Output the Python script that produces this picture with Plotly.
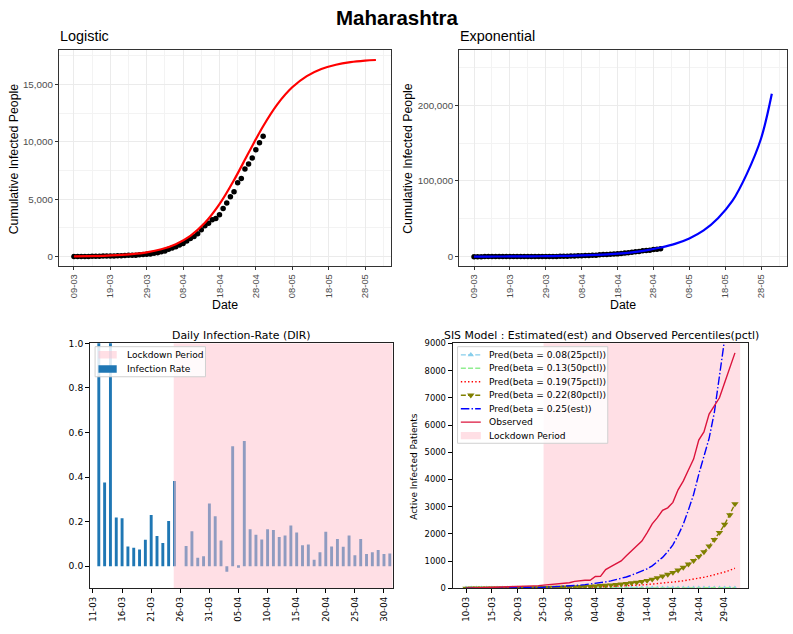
import pandas as pd
import plotly.graph_objects as go

# ---------------- data ----------------
obs_dates = pd.date_range("2020-03-09", "2020-04-30", freq="D")
obs_cum = [2, 5, 11, 14, 17, 26, 32, 38, 41, 45, 48, 52, 64, 74, 97, 107, 122, 125, 153, 186, 203, 220, 302,
           335, 423, 490, 635, 748, 868, 1018, 1135, 1364, 1574, 1761, 1982, 2334, 2684, 2916, 3202, 3323,
           3648, 4200, 4666, 5218, 5652, 6430, 6817, 7628, 8068, 8590, 9318, 9915, 10498]

fit_dates = ["2020-03-09", "2020-03-13", "2020-03-17", "2020-03-21", "2020-03-25", "2020-03-29",
             "2020-04-02", "2020-04-06", "2020-04-10", "2020-04-14", "2020-04-18", "2020-04-22",
             "2020-04-26", "2020-04-30", "2020-05-04", "2020-05-08", "2020-05-12", "2020-05-16",
             "2020-05-20", "2020-05-24", "2020-05-28", "2020-05-31"]
logistic_fit = [23, 40, 70, 123, 213, 369, 637, 1085, 1812, 2941, 4565, 6669, 9049, 11366, 13314,
                14758, 15733, 16351, 16726, 16948, 17078, 17136]
exp_fit = [95, 138, 201, 292, 423, 613, 890, 1291, 1873, 2717, 3940, 5720, 8295, 12030, 16800,
           24000, 34600, 50800, 73500, 109000, 156000, 215000]

dir_dates = pd.date_range("2020-03-12", "2020-05-01", freq="D")
dir_rate = [1.2, 0.375, 1.1, 0.218, 0.215, 0.088, 0.082, 0.075, 0.118, 0.229,
            0.135, 0.104, 0.203, 0.382, 0.0, 0.09, 0.157, 0.038, 0.044, 0.281,
            0.224, 0.115, -0.025, 0.538, -0.007, 0.562, 0.165, 0.141, 0.12, 0.165,
            0.162, 0.131, 0.137, 0.182, 0.151, 0.094, 0.097, 0.029, 0.062, 0.154,
            0.088, 0.122, 0.087, 0.137, 0.049, 0.122, 0.054, 0.062, 0.072, 0.054, 0.057]
dir_lockdown_start = "2020-03-24 21:00"

sis_dates = pd.date_range("2020-03-10", "2020-05-01", freq="D")
sis_observed = [5, 10, 12, 15, 24, 30, 36, 39, 43, 46, 50, 61, 71, 93, 102, 117, 122, 147, 178, 193,
                208, 260, 290, 300, 300, 440, 445, 690, 800, 900, 1010, 1200, 1380, 1550, 1740, 2040,
                2370, 2600, 2870, 2960, 3160, 3620, 3940, 4350, 4750, 5450, 5750, 6400, 6700, 7000,
                7550, 8100, 8650]
pred_025 = [5, 6, 7, 8, 9, 10, 12, 14, 16, 18, 21, 24, 28, 32, 37, 43, 50, 58, 67, 78,
            90, 104, 120, 139, 160, 185, 210, 240, 275, 314, 360, 420, 485, 555, 630, 720, 830, 970,
            1140, 1350, 1600, 1950, 2350, 2880, 3450, 4190, 4850, 5510, 6450, 7650, 8900, 10500, 12300]
pred_022 = [5, 6, 6, 7, 8, 9, 10, 11, 12, 14, 15, 17, 19, 22, 24, 27, 31, 35, 39, 44,
            49, 55, 62, 70, 78, 88, 99, 111, 125, 140, 157, 177, 199, 224, 252, 290, 335, 390,
            450, 515, 580, 670, 770, 890, 1020, 1170, 1340, 1550, 1790, 2050, 2350, 2700, 3100]
pred_019 = [5, 6, 6, 7, 7, 8, 9, 10, 11, 12, 13, 14, 16, 17, 19, 21, 23, 25, 28, 31,
            34, 37, 41, 45, 49, 54, 60, 66, 72, 79, 87, 96, 106, 117, 129, 142, 156, 172,
            190, 209, 230, 253, 279, 307, 338, 372, 410, 451, 497, 547, 602, 663, 740]
pred_013 = [5, 5, 5, 5, 6, 6, 6, 6, 6, 7, 7, 7, 7, 7, 8, 8, 8, 8, 9, 9,
            9, 9, 10, 10, 10, 11, 11, 11, 12, 12, 12, 13, 13, 14, 14, 14, 15, 15, 16, 16,
            17, 17, 18, 18, 19, 19, 20, 20, 21, 22, 22, 23, 24]
pred_008 = [5.0, 4.9, 4.8, 4.7, 4.6, 4.5, 4.4, 4.3, 4.3, 4.2, 4.1, 4.0, 3.9, 3.9, 3.8, 3.7, 3.6, 3.6,
            3.5, 3.4, 3.4, 3.3, 3.2, 3.2, 3.1, 3.0, 3.0, 2.9, 2.9, 2.8, 2.7, 2.7, 2.6, 2.6, 2.5, 2.5,
            2.4, 2.4, 2.3, 2.3, 2.2, 2.2, 2.2, 2.1, 2.1, 2.0, 2.0, 2.0, 1.9, 1.9, 1.8, 1.8, 1.8]
sis_lockdown = ("2020-03-25", "2020-05-02")

sis_labels = ["Pred(beta = 0.08(25pctl))", "Pred(beta = 0.13(50pctl))", "Pred(beta = 0.19(75pctl))",
              "Pred(beta = 0.22(80pctl))", "Pred(beta = 0.25(est))", "Observed", "Lockdown Period"]
dir_labels = ["Lockdown Period", "Infection Rate"]

# ---------------- layout helpers ----------------
W, H = 793, 634
def fx(p):
    return p / W
def fy(p):
    return 1 - p / H

GG = "Liberation Sans"
MPL = "DejaVu Sans"
PINK = "rgba(255,192,203,0.5)"
DAY = 86400000

fig = go.Figure()

# top-left: logistic
fig.add_trace(go.Scatter(x=obs_dates, y=obs_cum, mode="markers", xaxis="x", yaxis="y",
                         marker=dict(color="black", size=5.5)))
fig.add_trace(go.Scatter(x=fit_dates, y=logistic_fit, mode="lines", xaxis="x", yaxis="y",
                         line=dict(color="#FF0000", width=2.2, shape="spline")))
# top-right: exponential
fig.add_trace(go.Scatter(x=obs_dates, y=obs_cum, mode="markers", xaxis="x2", yaxis="y2",
                         marker=dict(color="black", size=5.5)))
fig.add_trace(go.Scatter(x=fit_dates, y=exp_fit, mode="lines", xaxis="x2", yaxis="y2",
                         line=dict(color="#0000FF", width=2.2, shape="spline")))

# bottom-left: DIR bars + lockdown overlay
dir_x0 = pd.Timestamp("2020-03-11") - pd.Timedelta(hours=12)
dir_x1 = dir_dates[-1] + pd.Timedelta(hours=12)
fig.add_trace(go.Bar(x=dir_dates, y=dir_rate, width=DAY * 0.5, xaxis="x3", yaxis="y3",
                     marker=dict(color="#1f77b4", line=dict(width=0))))
fig.add_trace(go.Scatter(x=[dir_lockdown_start, dir_x1, dir_x1, dir_lockdown_start, dir_lockdown_start],
                         y=[-0.1, -0.1, 1.0, 1.0, -0.1], mode="lines", fill="toself",
                         fillcolor=PINK, line=dict(width=0), xaxis="x3", yaxis="y3", hoverinfo="skip"))

# bottom-right: SIS
lw = 1.4
sis_styles = [
    (pred_008, dict(color="#87CEEB", width=lw, dash="5px,2.2px"), dict(symbol="triangle-up", size=5.5, color="#87CEEB")),
    (pred_013, dict(color="#90EE90", width=lw, dash="5px,2.2px"), None),
    (pred_019, dict(color="#FF0000", width=lw, dash="1.4px,2.2px"), None),
    (pred_022, dict(color="#808000", width=lw, dash="5px,2.2px"), dict(symbol="triangle-down", size=6.5, color="#808000")),
    (pred_025, dict(color="#0000FF", width=lw, dash="8.5px,2.2px,1.4px,2.2px"), None),
    (sis_observed, dict(color="#DC143C", width=lw), None),
]
for vals, line, marker in sis_styles:
    fig.add_trace(go.Scatter(x=sis_dates, y=vals, mode="lines+markers" if marker else "lines",
                             line=line, marker=marker, xaxis="x4", yaxis="y4"))

# SIS legend (aux axes in pixel units)
LX0, LX1, LY0, LY1 = 452, 612, 342, 449
fig.add_trace(go.Scatter(x=[456.7, 607.3, 607.3, 456.7, 456.7], y=[346.7, 346.7, 445, 445, 346.7],
                         mode="lines", fill="toself", fillcolor="rgba(255,255,255,0.85)",
                         line=dict(color="#d0d0d0", width=1), xaxis="x5", yaxis="y5", hoverinfo="skip"))
rows = [355 + 13.7 * i for i in range(7)]
for i, (vals, line, marker) in enumerate(sis_styles):
    fig.add_trace(go.Scatter(x=[460, 480], y=[rows[i], rows[i]], mode="lines", line=line,
                             xaxis="x5", yaxis="y5", hoverinfo="skip"))
    if marker:
        fig.add_trace(go.Scatter(x=[470], y=[rows[i]], mode="markers", marker=marker,
                                 xaxis="x5", yaxis="y5", hoverinfo="skip"))
ry = rows[6]
fig.add_trace(go.Scatter(x=[460, 480, 480, 460, 460], y=[ry - 3.8, ry - 3.8, ry + 3.8, ry + 3.8, ry - 3.8],
                         mode="lines", fill="toself", fillcolor=PINK, line=dict(width=0),
                         xaxis="x5", yaxis="y5", hoverinfo="skip"))

# DIR legend (aux axes in pixel units)
DX0, DX1, DY0, DY1 = 90, 207, 343.5, 380
fig.add_trace(go.Scatter(x=[93.3, 204, 204, 93.3, 93.3], y=[346.7, 346.7, 377.3, 377.3, 346.7],
                         mode="lines", fill="toself", fillcolor="rgba(255,255,255,0.85)",
                         line=dict(color="#d0d0d0", width=1), xaxis="x6", yaxis="y6", hoverinfo="skip"))
drows = [355, 369.3]
for r, col in zip(drows, [PINK, "#1f77b4"]):
    fig.add_trace(go.Scatter(x=[96.7, 115, 115, 96.7, 96.7], y=[r - 3.8, r - 3.8, r + 3.8, r + 3.8, r - 3.8],
                             mode="lines", fill="toself", fillcolor=col, line=dict(width=0),
                             xaxis="x6", yaxis="y6", hoverinfo="skip"))

# ---------------- axes ----------------
gg_x = dict(type="date", range=["2020-03-04 20:24", "2020-06-04 03:36"], tick0="2020-03-09", dtick=10 * DAY,
            tickformat="%d-%m", tickangle=-90, ticks="outside", ticklen=3, tickcolor="#333333",
            tickfont=dict(family=GG, size=9.4, color="#4D4D4D"), showgrid=True, gridcolor="#EBEBEB",
            gridwidth=1, minor=dict(tick0="2020-03-04", dtick=10 * DAY, showgrid=True, gridcolor="#F3F3F3",
                                    gridwidth=0.8), showline=True, mirror=True, linecolor="#333333",
            linewidth=1, zeroline=False)
gg_y = dict(ticks="outside", ticklen=3, tickcolor="#333333", tickformat=",",
            tickfont=dict(family=GG, size=9.8, color="#4D4D4D"), showgrid=True, gridcolor="#EBEBEB",
            gridwidth=1, showline=True, mirror=True, linecolor="#333333", linewidth=1, zeroline=False)
mpl_x = dict(type="date", tickformat="%d-%m", tickangle=-90, ticks="outside", ticklen=4,
             tickcolor="black", dtick=5 * DAY, tickfont=dict(family=MPL, size=8.6, color="black"),
             showgrid=False, showline=True, mirror=True, linecolor="#222222", linewidth=1, zeroline=False)
mpl_y = dict(ticks="outside", ticklen=4, tickcolor="black", tickfont=dict(family=MPL, size=9.2, color="black"),
             showgrid=False, showline=True, mirror=True, linecolor="#222222", linewidth=1, zeroline=False)

layout = dict(
    width=W, height=H, margin=dict(l=0, r=0, t=0, b=0), paper_bgcolor="white",
    plot_bgcolor="rgba(0,0,0,0)", showlegend=False, hovermode=False,
    xaxis=dict(gg_x, domain=[fx(57), fx(390)], anchor="y"),
    yaxis=dict(gg_y, domain=[fy(265), fy(45)], anchor="x", range=[-855, 17990], tick0=0, dtick=5000,
               minor=dict(tick0=2500, dtick=5000, showgrid=True, gridcolor="#F3F3F3", gridwidth=0.8)),
    xaxis2=dict(gg_x, domain=[fx(458.3), fx(786.7)], anchor="y2"),
    yaxis2=dict(gg_y, domain=[fy(265), fy(45)], anchor="x2", range=[-12900, 272600], tick0=0, dtick=100000,
                minor=dict(tick0=50000, dtick=100000, showgrid=True, gridcolor="#F3F3F3", gridwidth=0.8)),
    xaxis3=dict(mpl_x, domain=[fx(88.3), fx(391.7)], anchor="y3", range=[dir_x0, dir_x1], tick0="2020-03-11"),
    yaxis3=dict(mpl_y, domain=[fy(592.7), fy(343.3)], anchor="x3", range=[-0.1, 1.0], tick0=0, dtick=0.2,
                tickformat=".1f"),
    xaxis4=dict(mpl_x, domain=[fx(451.7), fx(748.3)], anchor="y4",
                range=["2020-03-07 09:36", "2020-05-03 14:24"], tick0="2020-03-10"),
    yaxis4=dict(mpl_y, domain=[fy(592.7), fy(343.3)], anchor="x4", range=[0, 9000], tick0=0, dtick=1000,
                tickfont=dict(family=MPL, size=8.4, color="black")),
    xaxis5=dict(domain=[fx(LX0), fx(LX1)], range=[LX0, LX1], anchor="y5", visible=False),
    yaxis5=dict(domain=[fy(LY1), fy(LY0)], range=[LY1, LY0], anchor="x5", visible=False),
    xaxis6=dict(domain=[fx(DX0), fx(DX1)], range=[DX0, DX1], anchor="y6", visible=False),
    yaxis6=dict(domain=[fy(DY1), fy(DY0)], range=[DY1, DY0], anchor="x6", visible=False),
)
fig.update_layout(**layout)

# SIS pink lockdown band (below lines)
fig.add_shape(type="rect", xref="x4", yref="y4 domain", x0=sis_lockdown[0], x1=sis_lockdown[1], y0=0, y1=1,
              fillcolor=PINK, line=dict(width=0), layer="below")

# ---------------- texts ----------------
def note(text, x, y, size, family, color="black", xanchor="center", angle=0, xref="paper", yref="paper"):
    fig.add_annotation(text=text, x=x, y=y, xref=xref, yref=yref, showarrow=False, xanchor=xanchor,
                       yanchor="middle", textangle=angle, font=dict(family=family, size=size, color=color))

note("<b>Maharashtra</b>", 0.5, fy(12), 20.5, GG)
note("Logistic", fx(56), fy(31), 14.4, GG, xanchor="left")
note("Exponential", fx(457.5), fy(31), 14.4, GG, xanchor="left")
note("Cumulative Infected People", fx(12), fy(155), 12.3, GG, angle=-90)
note("Cumulative Infected People", fx(407.5), fy(155), 12.3, GG, angle=-90)
note("Date", fx(223.5), fy(304), 12.3, GG)
note("Date", fx(622.5), fy(304), 12.3, GG)
note("Daily Infection-Rate (DIR)", fx(240), fy(335), 10.9, MPL)
note("SIS Model : Estimated(est) and Observed Percentiles(pctl)", fx(601), fy(335), 10.9, MPL)
note("Active Infected Patients", fx(413), fy(468), 9.0, MPL, angle=-90)
for r, lab in zip(rows, sis_labels):
    note(lab, 486, r, 9.1, MPL, xanchor="left", xref="x5", yref="y5")
for r, lab in zip(drows, dir_labels):
    note(lab, 123.3, r, 9.1, MPL, xanchor="left", xref="x6", yref="y6")

fig.write_html("out.html", config={"displayModeBar": False},
               post_script="document.body.style.margin='0';document.body.style.padding='0';"
                           "document.documentElement.style.overflow='hidden';")
